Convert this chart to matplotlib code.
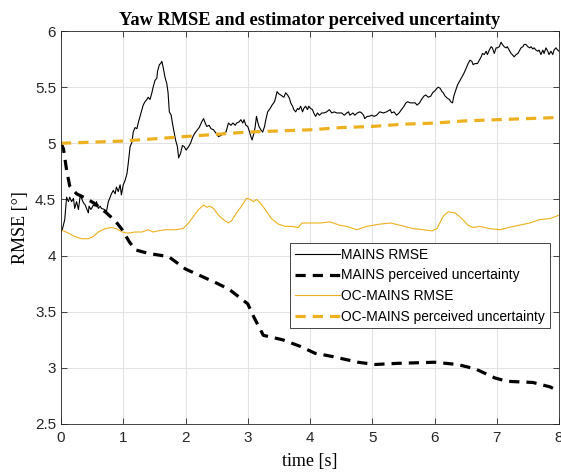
import matplotlib
matplotlib.use('Agg')
import matplotlib.pyplot as plt

# MAINS RMSE (black thin line)
t_mains = [0.00, 0.02, 0.06, 0.09, 0.12, 0.14, 0.17, 0.20, 0.22, 0.25, 0.28, 0.31, 0.33, 0.36, 0.39,
           0.41, 0.44, 0.45, 0.48, 0.52, 0.55, 0.57, 0.60, 0.63, 0.65, 0.70, 0.73, 0.76, 0.79, 0.81,
           0.84, 0.87, 0.89, 0.92, 0.95, 0.97, 1.00, 1.03, 1.06, 1.08, 1.11, 1.14, 1.16, 1.19, 1.22,
           1.24, 1.27, 1.30, 1.32, 1.35, 1.38, 1.40, 1.43, 1.46, 1.48, 1.51, 1.54, 1.55, 1.58, 1.60,
           1.62, 1.64, 1.67, 1.70, 1.72, 1.74, 1.77, 1.79, 1.82, 1.84, 1.87, 1.89, 1.92, 1.95, 1.98,
           2.01, 2.05, 2.08, 2.12, 2.15, 2.19, 2.22, 2.26, 2.29, 2.31, 2.34, 2.38, 2.41, 2.45, 2.49,
           2.53, 2.57, 2.61, 2.65, 2.69, 2.73, 2.76, 2.80, 2.82, 2.86, 2.89, 2.92, 2.94, 2.97, 3.00,
           3.03, 3.05, 3.07, 3.10, 3.12, 3.14, 3.16, 3.18, 3.21, 3.24, 3.27, 3.29, 3.32, 3.36, 3.39,
           3.43, 3.45, 3.47, 3.50, 3.53, 3.58, 3.61, 3.64, 3.67, 3.69, 3.72, 3.74, 3.77, 3.80, 3.82,
           3.85, 3.88, 3.90, 3.93, 3.96, 3.98, 4.01, 4.04, 4.06, 4.09, 4.12, 4.15, 4.19, 4.22, 4.27,
           4.31, 4.35, 4.39, 4.43, 4.47, 4.51, 4.55, 4.59, 4.62, 4.64, 4.69, 4.72, 4.76, 4.80, 4.83,
           4.86, 4.88, 4.92, 4.95, 4.99, 5.03, 5.07, 5.12, 5.18, 5.23, 5.29, 5.31, 5.35, 5.39, 5.43,
           5.47, 5.51, 5.54, 5.57, 5.61, 5.65, 5.69, 5.72, 5.76, 5.79, 5.83, 5.86, 5.90, 5.94, 5.97,
           6.01, 6.04, 6.06, 6.09, 6.12, 6.14, 6.17, 6.21, 6.24, 6.26, 6.29, 6.31, 6.34, 6.37, 6.40,
           6.43, 6.47, 6.51, 6.54, 6.57, 6.60, 6.62, 6.65, 6.69, 6.72, 6.75, 6.77, 6.80, 6.83, 6.85,
           6.88, 6.91, 6.93, 6.96, 6.99, 7.01, 7.04, 7.07, 7.09, 7.12, 7.15, 7.17, 7.20, 7.23, 7.25,
           7.28, 7.31, 7.34, 7.36, 7.39, 7.42, 7.44, 7.47, 7.50, 7.53, 7.55, 7.58, 7.60, 7.63, 7.66,
           7.68, 7.71, 7.74, 7.76, 7.79, 7.82, 7.84, 7.87, 7.90, 7.92, 7.95, 7.98, 8.00]
rmse_mains = [4.22, 4.23, 4.32, 4.52, 4.48, 4.52, 4.48, 4.51, 4.42, 4.48, 4.41, 4.54, 4.51, 4.47, 4.45,
              4.42, 4.38, 4.44, 4.41, 4.45, 4.44, 4.48, 4.42, 4.44, 4.42, 4.41, 4.39, 4.48, 4.52, 4.55,
              4.58, 4.55, 4.61, 4.57, 4.63, 4.54, 4.63, 4.67, 4.73, 4.82, 4.97, 5.01, 5.10, 5.14, 5.13,
              5.18, 5.24, 5.30, 5.34, 5.37, 5.39, 5.41, 5.39, 5.45, 5.50, 5.56, 5.58, 5.64, 5.70, 5.71,
              5.73, 5.68, 5.59, 5.53, 5.45, 5.28, 5.25, 5.18, 5.09, 5.03, 4.97, 4.87, 4.91, 4.98, 4.97,
              4.94, 4.97, 5.00, 5.06, 5.09, 5.12, 5.14, 5.19, 5.22, 5.19, 5.15, 5.16, 5.13, 5.12, 5.09,
              5.06, 5.07, 5.09, 5.10, 5.18, 5.16, 5.18, 5.16, 5.18, 5.19, 5.21, 5.18, 5.21, 5.16, 5.15,
              5.10, 5.06, 5.03, 5.09, 5.15, 5.24, 5.19, 5.15, 5.12, 5.10, 5.15, 5.21, 5.28, 5.31, 5.34,
              5.37, 5.41, 5.46, 5.44, 5.43, 5.41, 5.45, 5.43, 5.40, 5.36, 5.33, 5.30, 5.28, 5.31, 5.30,
              5.33, 5.28, 5.31, 5.33, 5.30, 5.33, 5.31, 5.30, 5.27, 5.24, 5.27, 5.25, 5.27, 5.27, 5.28,
              5.30, 5.27, 5.28, 5.27, 5.27, 5.27, 5.25, 5.27, 5.28, 5.25, 5.27, 5.25, 5.27, 5.28, 5.27,
              5.25, 5.22, 5.24, 5.24, 5.25, 5.24, 5.25, 5.28, 5.27, 5.28, 5.30, 5.27, 5.28, 5.25, 5.27,
              5.30, 5.33, 5.36, 5.37, 5.36, 5.36, 5.36, 5.34, 5.36, 5.39, 5.42, 5.43, 5.41, 5.42, 5.45,
              5.47, 5.49, 5.50, 5.49, 5.46, 5.45, 5.42, 5.40, 5.39, 5.37, 5.36, 5.42, 5.47, 5.52, 5.55,
              5.58, 5.62, 5.67, 5.71, 5.74, 5.73, 5.70, 5.71, 5.71, 5.74, 5.77, 5.80, 5.79, 5.82, 5.79,
              5.83, 5.86, 5.85, 5.80, 5.85, 5.85, 5.86, 5.90, 5.88, 5.86, 5.85, 5.86, 5.83, 5.80, 5.79,
              5.77, 5.79, 5.80, 5.82, 5.85, 5.86, 5.88, 5.88, 5.86, 5.85, 5.86, 5.84, 5.85, 5.83, 5.82,
              5.83, 5.79, 5.83, 5.80, 5.85, 5.82, 5.79, 5.82, 5.79, 5.83, 5.85, 5.83, 5.82]

# MAINS perceived uncertainty (black dashed)
t_mains_unc = [0.00, 0.04, 0.09, 0.14, 0.25, 0.40, 0.55, 0.73, 0.87, 0.97, 1.10, 1.20, 1.40, 1.73,
               2.00, 2.48, 2.70, 3.00, 3.10, 3.25, 3.56, 3.85, 4.08, 4.37, 4.77, 5.05, 5.40, 6.00,
               6.37, 6.66, 6.97, 7.17, 7.58, 7.86, 8.00]
unc_mains = [5.00, 4.95, 4.76, 4.62, 4.55, 4.51, 4.46, 4.38, 4.31, 4.24, 4.12, 4.05, 4.02, 3.99,
             3.88, 3.76, 3.70, 3.57, 3.45, 3.29, 3.25, 3.19, 3.13, 3.10, 3.05, 3.03, 3.04, 3.05,
             3.03, 2.99, 2.91, 2.88, 2.87, 2.83, 2.79]

# OC-MAINS RMSE (orange thin)
t_oc = [0.00, 0.12, 0.22, 0.33, 0.44, 0.52, 0.60, 0.71, 0.81, 0.89, 0.98, 1.08, 1.19, 1.30, 1.40,
        1.48, 1.56, 1.67, 1.83, 1.96, 2.05, 2.13, 2.21, 2.29, 2.34, 2.39, 2.45, 2.53, 2.61, 2.69,
        2.74, 2.82, 2.90, 2.98, 3.04, 3.09, 3.14, 3.20, 3.28, 3.38, 3.49, 3.60, 3.71, 3.81, 3.87,
        3.97, 4.05, 4.16, 4.32, 4.48, 4.59, 4.75, 4.91, 5.12, 5.29, 5.45, 5.66, 5.82, 5.96, 6.04,
        6.14, 6.22, 6.33, 6.44, 6.54, 6.62, 6.73, 6.89, 7.05, 7.27, 7.53, 7.69, 7.86, 8.00]
rmse_oc = [4.23, 4.20, 4.17, 4.15, 4.15, 4.17, 4.21, 4.24, 4.25, 4.24, 4.21, 4.20, 4.21, 4.21, 4.23,
           4.21, 4.22, 4.23, 4.23, 4.24, 4.29, 4.35, 4.41, 4.45, 4.43, 4.44, 4.42, 4.36, 4.32, 4.29,
           4.31, 4.38, 4.44, 4.51, 4.50, 4.48, 4.50, 4.47, 4.41, 4.33, 4.28, 4.26, 4.26, 4.25, 4.29,
           4.29, 4.29, 4.29, 4.30, 4.27, 4.26, 4.23, 4.26, 4.28, 4.29, 4.27, 4.24, 4.23, 4.22, 4.24,
           4.35, 4.39, 4.38, 4.33, 4.27, 4.25, 4.26, 4.24, 4.23, 4.26, 4.29, 4.32, 4.33, 4.36]

# OC-MAINS perceived uncertainty (orange dashed)
t_oc_unc = [0.0, 0.5, 1.0, 1.5, 2.0, 2.5, 3.0, 3.5, 4.0, 4.5, 5.0, 5.5, 6.0, 6.5, 7.0, 7.5, 8.0]
unc_oc = [5.00, 5.01, 5.02, 5.04, 5.06, 5.08, 5.10, 5.11, 5.12, 5.14, 5.15, 5.17, 5.18, 5.20,
          5.21, 5.22, 5.23]

orange = '#EDB120'
sans = ['Liberation Sans', 'DejaVu Sans']
serif = ['Liberation Serif', 'DejaVu Serif']

fig = plt.figure(figsize=(5.61, 4.75), dpi=100)
ax = fig.add_axes([61 / 561, 1 - 424 / 475, 498 / 561, 393 / 475])

ax.plot(t_mains, rmse_mains, color='black', lw=0.8, label='MAINS RMSE')
ax.plot(t_mains_unc, unc_mains, color='black', lw=2.3, dashes=(3.2, 2.2),
        label='MAINS perceived uncertainty')
ax.plot(t_oc, rmse_oc, color=orange, lw=0.8, label='OC-MAINS RMSE')
ax.plot(t_oc_unc, unc_oc, color=orange, lw=2.3, dashes=(3.2, 2.2),
        label='OC-MAINS perceived uncertainty')

ax.set_xlim(0, 8)
ax.set_ylim(2.5, 6)
ax.set_xticks(range(0, 9))
ax.set_yticks([2.5, 3, 3.5, 4, 4.5, 5, 5.5, 6])
ax.set_yticklabels(['2.5', '3', '3.5', '4', '4.5', '5', '5.5', '6'])
ax.grid(True, color='#e3e3e3', lw=0.8)
ax.set_axisbelow(True)
ax.tick_params(direction='in', top=True, right=True, length=4, width=0.6,
               colors='#262626', labelsize=11)
ax.tick_params(axis='x', pad=5)
for lab in ax.get_xticklabels() + ax.get_yticklabels():
    lab.set_family(sans)
for s in ax.spines.values():
    s.set_color('#262626')
    s.set_linewidth(0.6)

ax.set_title('Yaw RMSE and estimator perceived uncertainty', family=serif,
             fontweight='bold', fontsize=13.2, pad=4)
ax.set_xlabel('time [s]', family=serif, fontsize=13, labelpad=6)
ax.set_ylabel('RMSE [°]', family=serif, fontsize=13, labelpad=4)

leg = ax.legend(loc='upper right', bbox_to_anchor=(0.982, 0.4606), prop={'family': sans, 'size': 9.9},
                fancybox=False, framealpha=1, edgecolor='#262626', handlelength=3.3,
                handletextpad=0.1, borderpad=0.35, labelspacing=0.48, borderaxespad=0)
leg.get_frame().set_linewidth(0.6)

plt.savefig('out.png', dpi=100)
